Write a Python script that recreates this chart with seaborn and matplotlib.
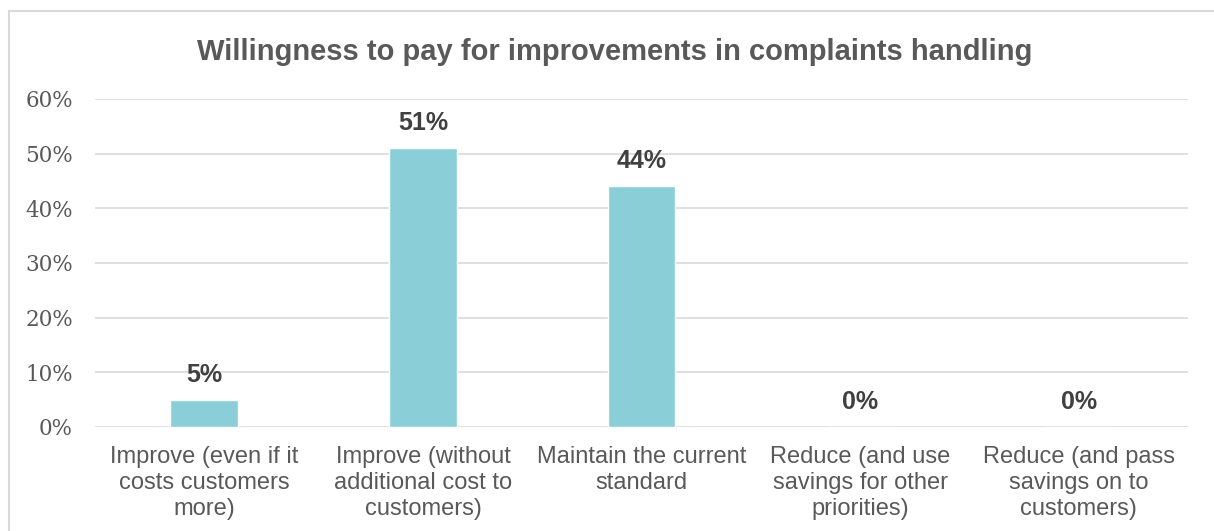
import matplotlib
matplotlib.use("Agg")
import matplotlib.pyplot as plt
from matplotlib.patches import Rectangle
from matplotlib.ticker import PercentFormatter
import seaborn as sns
import pandas as pd

categories = [
    "Improve (even if it\ncosts customers\nmore)",
    "Improve (without\nadditional cost to\ncustomers)",
    "Maintain the current\nstandard",
    "Reduce (and use\nsavings for other\npriorities)",
    "Reduce (and pass\nsavings on to\ncustomers)",
]
shares = [0.05, 0.51, 0.44, 0.0, 0.0]
value_labels = ["5%", "51%", "44%", "0%", "0%"]
title = "Willingness to pay for improvements in complaints handling"

sns.set_theme(style="white")
plt.rcParams["font.family"] = ["Liberation Sans", "DejaVu Sans"]

df = pd.DataFrame({"category": categories, "share": shares})

fig = plt.figure(figsize=(12.14, 5.31), dpi=100)
ax = fig.add_axes([0.0783, 0.1959, 0.9003, 0.6177])

sns.barplot(data=df, x="category", y="share", color="#8ACFD8",
            saturation=1, width=0.31, ax=ax, zorder=3)

ax.set_ylim(0, 0.6)
ax.set_yticks([0, 0.1, 0.2, 0.3, 0.4, 0.5, 0.6])
ax.yaxis.set_major_formatter(PercentFormatter(1.0, decimals=0))
ax.grid(axis="y", color="#D9D9D9", linewidth=1.2, zorder=0)
ax.grid(axis="x", visible=False)
for s in ax.spines.values():
    s.set_visible(False)
ax.set_xlabel("")
ax.set_ylabel("")

ax.tick_params(axis="y", length=0, pad=16, labelcolor="#595959")
for lbl in ax.get_yticklabels():
    lbl.set_fontfamily(["DejaVu Serif"])
    lbl.set_fontsize(15.5)
ax.tick_params(axis="x", length=0, pad=14, labelsize=17, labelcolor="#595959")
for lbl in ax.get_xticklabels():
    lbl.set_linespacing(1.23)

for i, (v, t) in enumerate(zip(shares, value_labels)):
    ax.annotate(t, xy=(i, v), xytext=(0, 18), textcoords="offset points",
                ha="center", va="center", fontsize=18, fontweight="bold",
                color="#404040")

fig.text(0.5063, 0.903, title, ha="center", va="center", fontsize=21,
         fontweight="bold", color="#595959")

fig.patches.append(Rectangle((9 / 1214, -0.1), 1.2, 1.1 - 11 / 531,
                             transform=fig.transFigure, fill=False,
                             edgecolor="#D9D9D9", linewidth=1.5))

fig.savefig("out.png", dpi=100, facecolor="white")
